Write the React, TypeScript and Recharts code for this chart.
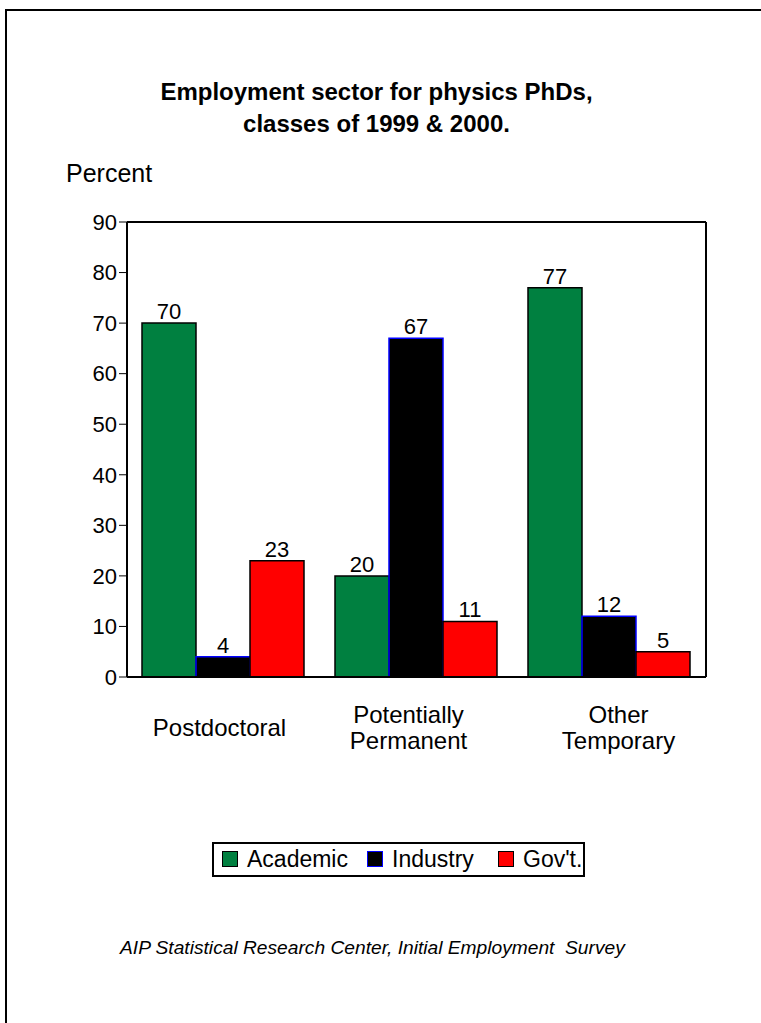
import React from "react";
import { BarChart, Bar, XAxis, YAxis, LabelList, CartesianGrid } from "recharts";

const categories = ["Postdoctoral", "Potentially\nPermanent", "Other\nTemporary"];
const academic = [70, 20, 77];
const industry = [4, 67, 12];
const govt = [23, 11, 5];
const yTicks = [0, 10, 20, 30, 40, 50, 60, 70, 80, 90];

const series = [
  { key: "academic", name: "Academic", fill: "#008040", stroke: "#000000" },
  { key: "industry", name: "Industry", fill: "#000000", stroke: "#0000ff" },
  { key: "govt", name: "Gov't.", fill: "#ff0000", stroke: "#000000" },
];

const data = categories.map((c, i) => ({
  name: c,
  academic: academic[i],
  industry: industry[i],
  govt: govt[i],
}));

const FONT = "Arial, 'Liberation Sans', Helvetica, sans-serif";

// the original category labels sit slightly off their band centres
const labelShift = [-4, -8, 9];

const CategoryTick = (props: any) => {
  const { x, y, payload, index } = props;
  const lines = String(payload.value).split("\n");
  const base = y + 50.5;
  return (
    <g>
      {lines.map((line, i) => (
        <text
          key={i}
          x={x + (labelShift[index] || 0)}
          y={base + (i - (lines.length - 1) / 2) * 26}
          textAnchor="middle"
          fontSize={24}
          fontFamily={FONT}
          fill="#000"
        >
          {line}
        </text>
      ))}
    </g>
  );
};

const App = () => {
  return (
    <div
      style={{
        position: "absolute",
        left: 0,
        top: 0,
        width: 761,
        height: 1023,
        fontFamily: FONT,
        color: "#000",
        overflow: "hidden",
      }}
    >
      {/* page frame */}
      <div
        style={{
          position: "absolute",
          left: 5,
          top: 9,
          right: 0,
          bottom: 0,
          borderLeft: "2px solid #000",
          borderTop: "2px solid #000",
        }}
      />

      {/* title */}
      <div
        style={{
          position: "absolute",
          left: 0,
          top: 76,
          width: 753,
          textAlign: "center",
          fontWeight: "bold",
          fontSize: 24,
          lineHeight: "32px",
        }}
      >
        Employment sector for physics PhDs,
        <br />
        classes of 1999 &amp; 2000.
      </div>

      <div
        style={{
          position: "absolute",
          left: 66,
          top: 161,
          fontSize: 25,
          lineHeight: "25px",
        }}
      >
        Percent
      </div>

      <div style={{ position: "absolute", left: 0, top: 0 }}>
        <BarChart
          width={761}
          height={1023}
          data={data}
          margin={{ top: 222, right: 55, bottom: 316, left: 0 }}
          barCategoryGap={15}
          barGap={0}
        >
          {/* box: top and right edges of the plot */}
          <CartesianGrid
            stroke="#000"
            strokeWidth={2}
            horizontalCoordinatesGenerator={({ offset }: any) => [offset.top]}
            verticalCoordinatesGenerator={({ offset }: any) => [
              offset.left + offset.width,
            ]}
          />
          <XAxis
            dataKey="name"
            height={30}
            axisLine={{ stroke: "#000", strokeWidth: 2 }}
            tickLine={false}
            tick={<CategoryTick />}
            interval={0}
          />
          <YAxis
            domain={[0, 90]}
            ticks={yTicks}
            width={127}
            tickSize={8}
            tickMargin={2}
            axisLine={{ stroke: "#000", strokeWidth: 2 }}
            tickLine={{ stroke: "#000" }}
            tick={{ fontSize: 22, fill: "#000", fontFamily: FONT }}
            interval={0}
          />
          {series.map((s) => (
            <Bar
              key={s.key}
              dataKey={s.key}
              name={s.name}
              fill={s.fill}
              stroke={s.stroke}
              strokeWidth={1.5}
              isAnimationActive={false}
            >
              <LabelList
                dataKey={s.key}
                position="top"
                offset={4}
                fontSize={22}
                fill="#000"
                fontFamily={FONT}
              />
            </Bar>
          ))}
        </BarChart>
      </div>

      {/* legend */}
      <div
        style={{
          position: "absolute",
          left: 212,
          top: 842,
          width: 369,
          height: 31,
          border: "2px solid #000",
          fontSize: 23,
        }}
      >
        {series.map((s, i) => (
          <div
            key={s.key}
            style={{
              position: "absolute",
              left: [8, 153, 284][i],
              top: 3,
              display: "flex",
              alignItems: "center",
              height: 24,
            }}
          >
            <span
              style={{
                display: "inline-block",
                width: 14,
                height: 14,
                background: s.fill,
                border: `1.5px solid ${s.stroke}`,
                marginRight: 9,
              }}
            />
            <span style={{ lineHeight: "24px" }}>{s.name}</span>
          </div>
        ))}
      </div>

      {/* source */}
      <div
        style={{
          position: "absolute",
          left: 120,
          top: 938,
          fontSize: 19.2,
          lineHeight: "19px",
          fontStyle: "italic",
          whiteSpace: "pre",
        }}
      >
        AIP Statistical Research Center, Initial Employment  Survey
      </div>
    </div>
  );
};

export default App;
